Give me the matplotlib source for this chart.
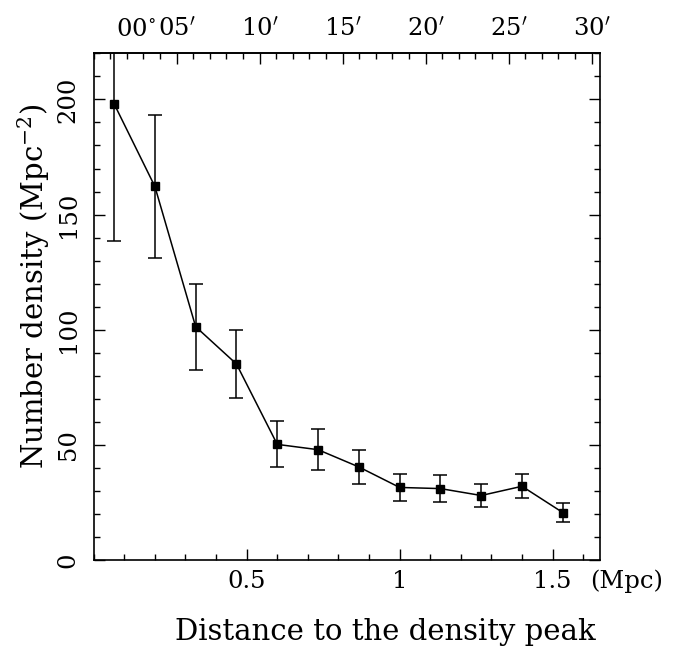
import matplotlib
matplotlib.use("Agg")
import matplotlib.pyplot as plt
from matplotlib.ticker import MultipleLocator

plt.rcParams['font.family'] = ['DejaVu Serif']
plt.rcParams['mathtext.fontset'] = 'dejavuserif'

# radial bins (Mpc) and number density (Mpc^-2) with 1-sigma errors
distancia = [0.0667, 0.2, 0.3333, 0.4667, 0.6, 0.7333, 0.8667, 1.0, 1.1333, 1.2667, 1.4, 1.5333]
densidad = [198.1, 162.2, 101.3, 85.1, 50.2, 47.9, 40.4, 31.5, 31.0, 28.0, 32.0, 20.6]
error = [59.6, 31.2, 18.7, 14.8, 10.0, 8.8, 7.4, 6.0, 5.7, 5.1, 5.2, 4.0]

arcmin_ticks = [5, 10, 15, 20, 25, 30]
arcmin_labels = ["05$^{\\prime}$", "10$^{\\prime}$", "15$^{\\prime}$",
                 "20$^{\\prime}$", "25$^{\\prime}$", "30$^{\\prime}$"]
mpc_por_arcmin = 0.05425  # escala angular -> fisica

fig = plt.figure(figsize=(6.76, 6.47), dpi=100)
ax = fig.add_axes([0.1386, 0.1345, 0.749, 0.783])

ax.errorbar(distancia, densidad, yerr=error, color='black', lw=1.1,
            marker='s', ms=5.5, capsize=5, elinewidth=1.1, capthick=1.1)

ax.set_xlim(0, 1.655)
ax.set_ylim(0, 220)

ax.xaxis.set_minor_locator(MultipleLocator(0.1))
ax.yaxis.set_major_locator(MultipleLocator(50))
ax.yaxis.set_minor_locator(MultipleLocator(10))
ax.set_xticks([0.5, 1, 1.5])
ax.set_xticklabels(["0.5", "1", "1.5"])

ax.tick_params(which='both', direction='in', right=True, top=False, width=1.0,
               labelsize=17.5)
ax.tick_params(which='major', length=8)
ax.tick_params(which='minor', length=4.3)
ax.tick_params(axis='x', pad=7)
ax.tick_params(axis='y', pad=10)
plt.setp(ax.get_yticklabels(), rotation=90, va='center')

for s in ax.spines.values():
    s.set_linewidth(1.2)

# eje de arriba en minutos de arco
sec = ax.secondary_xaxis('top', functions=(lambda x: x / mpc_por_arcmin,
                                           lambda a: a * mpc_por_arcmin))
sec.set_xticks(arcmin_ticks)
sec.set_xticklabels(arcmin_labels)
sec.xaxis.set_minor_locator(MultipleLocator(1))
sec.tick_params(which='both', direction='in', width=1.0, labelsize=17.5, pad=9)
sec.tick_params(which='major', length=8)
sec.tick_params(which='minor', length=4.3)
sec.spines['top'].set_linewidth(1.2)

# el "00 grados" va pegado a la izquierda del 05'
ax.text((156 - 93.7) / 506.3, 1 + 17.5 / 506.7, "00$^{\\circ}$", transform=ax.transAxes,
        ha='right', va='baseline', fontsize=17.5)

ax.text((590 - 93.7) / 506.3, -21 / 506.7, "(Mpc)", transform=ax.transAxes,
        ha='left', va='center', fontsize=17.5)

fig.text(385 / 676, 1 - 632 / 647, "Distance to the density peak", ha='center', va='center', fontsize=21)
fig.text(34 / 676, 1 - 286 / 647, "Number density (Mpc$^{-2}$)", ha='center', va='center',
         rotation=90, fontsize=21)

fig.savefig("out.png", dpi=100)
